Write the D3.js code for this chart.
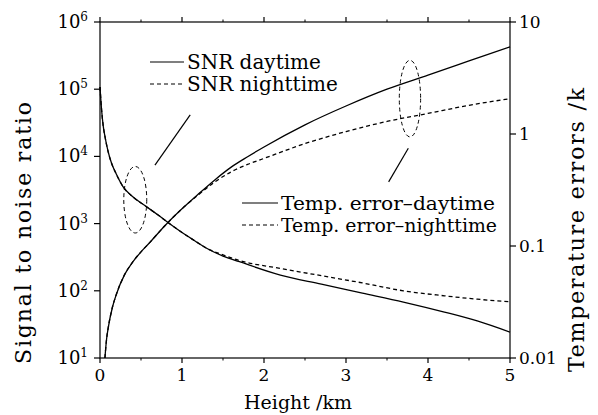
<!DOCTYPE html>
<html>
<head>
<meta charset="utf-8">
<script src="https://cdn.jsdelivr.net/npm/d3@7"></script>
<style>
body { margin: 0; background: #fff; }
svg text { font-family: "DejaVu Serif", serif; fill: #000; }
</style>
</head>
<body>
<div id="chart"></div>
<script>
// values
var snrHeight = [0.06, 0.08, 0.1, 0.15, 0.2, 0.3, 0.4, 0.5, 0.6, 0.8, 1.0, 1.2, 1.4, 1.6, 1.8, 2.0, 2.5, 3.0, 3.5, 4.0, 4.5, 5.0];
var snrDay = [10, 19, 28, 56, 89, 174, 269, 380, 513, 955, 1660, 2750, 4470, 6920, 9890, 13800, 29500, 56200, 100000, 162000, 263000, 427000];
var snrNight = [10, 19, 28, 56, 89, 174, 269, 380, 513, 955, 1660, 2690, 4170, 5890, 7590, 9330, 15500, 23400, 33100, 43600, 57500, 72400];

var errHeight = [0, 0.02, 0.04, 0.06, 0.1, 0.14, 0.2, 0.28, 0.4, 0.55, 0.7, 0.85, 1.0, 1.15, 1.3, 1.5, 1.7, 2.2, 2.7, 3.2, 3.7, 4.2, 4.6, 5.0];
var errDay = [2.63, 1.62, 1.17, 0.955, 0.692, 0.55, 0.437, 0.339, 0.275, 0.229, 0.191, 0.158, 0.132, 0.112, 0.0955, 0.0813, 0.0724, 0.055, 0.0457, 0.038, 0.0316, 0.0257, 0.0214, 0.017];
var errNight = [2.63, 1.62, 1.17, 0.955, 0.692, 0.55, 0.437, 0.339, 0.275, 0.229, 0.191, 0.158, 0.132, 0.112, 0.0955, 0.0832, 0.0741, 0.0631, 0.0543, 0.0468, 0.0398, 0.0359, 0.0335, 0.0318];

var xTicks = [0, 1, 2, 3, 4, 5];
var snrTicks = [1e1, 1e2, 1e3, 1e4, 1e5, 1e6];
var errTicks = [0.01, 0.1, 1, 10];
var errTickLabels = ["0.01", "0.1", "1", "10"];

// dashed ellipses + pointer lines (data coords: x km, y on SNR axis)
var ellipses = [
    {x0: 0.29, x1: 0.57, y0: 725, y1: 7080},
    {x0: 3.65, x1: 3.91, y0: 19500, y1: 269000}
];
var pointers = [
    {x0: 0.67, y0: 7400, x1: 1.10, y1: 41500},
    {x0: 3.76, y0: 13200, x1: 3.52, y1: 4170}
];

var width = 598, height = 415;
var pLeft = 100, pRight = 510, pTop = 22, pBottom = 358;

var svg = d3.select("#chart").append("svg")
    .attr("width", width)
    .attr("height", height);

var x = d3.scaleLinear().domain([0, 5]).range([pLeft, pRight]);
var ySnr = d3.scaleLog().domain([10, 1e6]).range([pBottom, pTop]);
var yErr = d3.scaleLog().domain([0.01, 10]).range([pBottom, pTop]);

// frame
svg.append("rect")
    .attr("x", pLeft).attr("y", pTop)
    .attr("width", pRight - pLeft).attr("height", pBottom - pTop)
    .attr("fill", "none").attr("stroke", "#000").attr("stroke-width", 1.2);

// x axis ticks, bottom and top (outward)
var minorX = d3.range(0.5, 5, 1);
var bottomAxis = svg.append("g").attr("transform", "translate(0," + pBottom + ")");
bottomAxis.selectAll("line.major").data(xTicks).enter().append("line")
    .attr("x1", function(d) { return x(d); }).attr("x2", function(d) { return x(d); })
    .attr("y1", 0).attr("y2", 5)
    .attr("stroke", "#000").attr("stroke-width", 1.2);
bottomAxis.selectAll("line.minor").data(minorX).enter().append("line")
    .attr("x1", function(d) { return x(d); }).attr("x2", function(d) { return x(d); })
    .attr("y1", 0).attr("y2", 2.5)
    .attr("stroke", "#000").attr("stroke-width", 1);
bottomAxis.selectAll("text").data(xTicks).enter().append("text")
    .attr("x", function(d) { return x(d); })
    .attr("y", 23)
    .attr("text-anchor", "middle")
    .style("font-size", "17px")
    .text(function(d) { return d; });

var topAxis = svg.append("g").attr("transform", "translate(0," + pTop + ")");
topAxis.selectAll("line.major").data(xTicks).enter().append("line")
    .attr("x1", function(d) { return x(d); }).attr("x2", function(d) { return x(d); })
    .attr("y1", 0).attr("y2", -5)
    .attr("stroke", "#000").attr("stroke-width", 1.2);
topAxis.selectAll("line.minor").data(minorX).enter().append("line")
    .attr("x1", function(d) { return x(d); }).attr("x2", function(d) { return x(d); })
    .attr("y1", 0).attr("y2", -2.5)
    .attr("stroke", "#000").attr("stroke-width", 1);

// left axis (SNR)
var leftAxis = svg.append("g").attr("transform", "translate(" + pLeft + ",0)");
leftAxis.selectAll("line").data(snrTicks).enter().append("line")
    .attr("x1", 0).attr("x2", -6)
    .attr("y1", function(d) { return ySnr(d); }).attr("y2", function(d) { return ySnr(d); })
    .attr("stroke", "#000").attr("stroke-width", 1.2);
var snrLabels = leftAxis.selectAll("text").data(snrTicks).enter().append("text")
    .attr("x", -12)
    .attr("y", function(d) { return ySnr(d) + 6; })
    .attr("text-anchor", "end")
    .style("font-size", "18px");
snrLabels.append("tspan").text("10");
snrLabels.append("tspan")
    .attr("dy", -7)
    .style("font-size", "12px")
    .text(function(d) { return Math.round(Math.log10(d)); });

// right axis (temperature error)
var rightAxis = svg.append("g").attr("transform", "translate(" + pRight + ",0)");
rightAxis.selectAll("line").data(errTicks).enter().append("line")
    .attr("x1", 0).attr("x2", 6)
    .attr("y1", function(d) { return yErr(d); }).attr("y2", function(d) { return yErr(d); })
    .attr("stroke", "#000").attr("stroke-width", 1.2);
rightAxis.selectAll("text").data(errTicks).enter().append("text")
    .attr("x", 9)
    .attr("y", function(d) { return yErr(d) + 6; })
    .style("font-size", "17px")
    .text(function(d, i) { return errTickLabels[i]; });

// axis titles
svg.append("text")
    .attr("x", 298).attr("y", 409)
    .attr("text-anchor", "middle")
    .style("font-size", "19px")
    .text("Height /km");
svg.append("text")
    .attr("transform", "translate(31,233) rotate(-90)")
    .attr("text-anchor", "middle")
    .style("font-size", "22px")
    .attr("textLength", 262)
    .attr("lengthAdjust", "spacing")
    .text("Signal to noise ratio");
svg.append("text")
    .attr("transform", "translate(584,230) rotate(-90)")
    .attr("text-anchor", "middle")
    .style("font-size", "22px")
    .attr("textLength", 284)
    .attr("lengthAdjust", "spacing")
    .text("Temperature errors /k");

// curves
var plot = svg.append("g");
function drawSeries(xs, ys, yScale, dash) {
    var pts = xs.map(function(d, i) { return [d, ys[i]]; });
    var line = d3.line()
        .x(function(d) { return x(d[0]); })
        .y(function(d) { return yScale(d[1]); })
        .curve(d3.curveMonotoneX);
    plot.append("path")
        .datum(pts)
        .attr("d", line)
        .attr("fill", "none")
        .attr("stroke", "#000")
        .attr("stroke-width", 1.3)
        .attr("stroke-dasharray", dash);
}
drawSeries(snrHeight, snrDay, ySnr, null);
drawSeries(snrHeight, snrNight, ySnr, "4,3");
drawSeries(errHeight, errDay, yErr, null);
drawSeries(errHeight, errNight, yErr, "4,3");

// annotations
plot.selectAll("ellipse").data(ellipses).enter().append("ellipse")
    .attr("cx", function(d) { return (x(d.x0) + x(d.x1)) / 2; })
    .attr("cy", function(d) { return (ySnr(d.y0) + ySnr(d.y1)) / 2; })
    .attr("rx", function(d) { return (x(d.x1) - x(d.x0)) / 2; })
    .attr("ry", function(d) { return (ySnr(d.y0) - ySnr(d.y1)) / 2; })
    .attr("fill", "none")
    .attr("stroke", "#000")
    .attr("stroke-width", 1)
    .attr("stroke-dasharray", "4,3");
plot.selectAll("line.pointer").data(pointers).enter().append("line")
    .attr("class", "pointer")
    .attr("x1", function(d) { return x(d.x0); }).attr("y1", function(d) { return ySnr(d.y0); })
    .attr("x2", function(d) { return x(d.x1); }).attr("y2", function(d) { return ySnr(d.y1); })
    .attr("stroke", "#000").attr("stroke-width", 1.2);

// legends
function legendRow(lx, ly, len, dash, label, size, tl) {
    svg.append("line")
        .attr("x1", lx).attr("x2", lx + len)
        .attr("y1", ly).attr("y2", ly)
        .attr("stroke", "#000").attr("stroke-width", 1.2)
        .attr("stroke-dasharray", dash);
    var t = svg.append("text")
        .attr("x", lx + len + 3).attr("y", ly + 7)
        .style("font-size", size + "px")
        .text(label);
    if (tl) t.attr("textLength", tl).attr("lengthAdjust", "spacingAndGlyphs");
}
legendRow(150, 62, 34, null, "SNR daytime", 20, 0);
legendRow(150, 84, 34, "4,3", "SNR nighttime", 20, 0);
legendRow(242, 203, 36, null, "Temp. error\u2013daytime", 19, 214);
legendRow(242, 225, 36, "4,3", "Temp. error\u2013nighttime", 19, 216);
</script>
</body>
</html>
